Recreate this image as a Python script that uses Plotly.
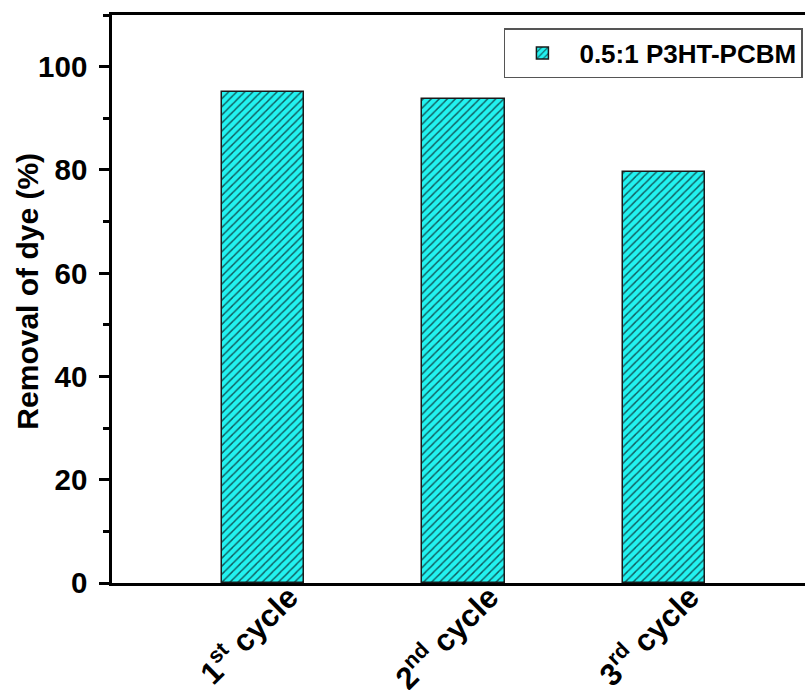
import plotly.graph_objects as go

categories = ["1st cycle", "2nd cycle", "3rd cycle"]
tick_labels = ["1<sup>st</sup> cycle", "2<sup>nd</sup> cycle", "3<sup>rd</sup> cycle"]
removal = [95.0, 93.7, 79.6]
series_name = "0.5:1 P3HT-PCBM"
y_title = "Removal of dye (%)"

FONT = "Liberation Sans, Arial, sans-serif"

fig = go.Figure()
fig.add_trace(go.Bar(
    x=categories, y=removal, name=series_name, width=0.41,
    marker=dict(
        color="#22F2F0",
        line=dict(color="#1a1a1a", width=1.5),
        pattern=dict(shape="/", fgcolor="#105c5e", bgcolor="#22F2F0",
                     size=5.7, solidity=0.25, fillmode="replace"),
    ),
    showlegend=True,
))

fig.update_layout(
    width=805, height=690,
    margin=dict(l=112, r=0, t=15, b=107),
    plot_bgcolor="white", paper_bgcolor="white",
    font=dict(family=FONT, color="black", size=24),
    showlegend=True,
    legend=dict(
        x=0.997, xanchor="right", y=1 - 13 / 567.7, yanchor="top",
        bordercolor="#555555", borderwidth=1.5, bgcolor="white",
        font=dict(family=FONT, size=26, color="black", weight="bold"),
        itemwidth=64,
    ),
    bargap=0,
    annotations=[dict(
        text=y_title, textangle=-90, showarrow=False,
        xref="paper", yref="paper",
        x=(28 - 112) / 693, y=(582.7 - 291.5) / 567.7,
        xanchor="center", yanchor="middle",
        font=dict(family=FONT, size=30, color="black", weight="bold"),
    )],
)
fig.update_xaxes(
    type="category", categoryorder="array", categoryarray=categories,
    tickmode="array", tickvals=categories, ticktext=tick_labels,
    range=[-0.753, 2.703], automargin=False,
    showline=True, linecolor="black", linewidth=2.5, mirror=True,
    ticks="", tickangle=-45,
    ticklabelshift=26, ticklabelstandoff=-19,
    tickfont=dict(family=FONT, size=31, color="black", weight="bold"),
    showgrid=False, zeroline=False,
)
fig.update_yaxes(
    range=[0, 110], dtick=20, tick0=0, automargin=False,
    showline=True, linecolor="black", linewidth=2.5, mirror=False,
    ticks="outside", ticklen=10, tickwidth=2.5, tickcolor="black",
    minor=dict(dtick=10, ticks="outside", ticklen=6, tickwidth=2.5, tickcolor="black", showgrid=False),
    ticklabelstandoff=6,
    tickfont=dict(family=FONT, size=29.5, color="black", weight="bold"),
    showgrid=False, zeroline=False,
)

fig.write_html("out.html", config={"displayModeBar": False},
               post_script="document.body.style.margin='0';")
